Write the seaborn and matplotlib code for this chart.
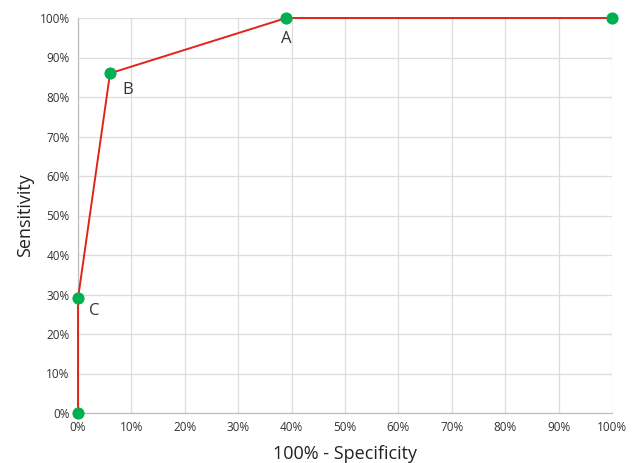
import matplotlib
matplotlib.use("Agg")
import matplotlib.pyplot as plt
import seaborn as sns
import pandas as pd

# ROC points (100% - specificity, sensitivity)
fpr = [0, 0, 6, 39, 100]
sens = [0, 29, 86, 100, 100]
point_names = ["", "C", "B", "A", ""]
ticks = [0, 10, 20, 30, 40, 50, 60, 70, 80, 90, 100]
tick_labels = [f"{t}%" for t in ticks]

sns.set_style("white")
plt.rcParams['font.family'] = ['Open Sans', 'DejaVu Sans']

df = pd.DataFrame({'fpr': fpr, 'sens': sens})

fig = plt.figure(figsize=(6.34, 4.63), dpi=100)
ax = fig.add_axes([78 / 634, 1 - 413 / 463, (612 - 78) / 634, (413 - 18) / 463])

sns.lineplot(data=df, x='fpr', y='sens', sort=False, estimator=None, ax=ax,
             color='#e2231a', linewidth=1.4, marker='o', markersize=8,
             markerfacecolor='#00b050', markeredgecolor='#00b050', clip_on=False, zorder=3)

offsets = {"A": (0, -15), "B": (13, -12), "C": (12, -9)}
for x, y, n in zip(fpr, sens, point_names):
    if n:
        ax.annotate(n, (x, y), xytext=offsets[n], textcoords='offset points',
                    ha='center', va='center', fontsize=12, color='#333333')

ax.set_xlim(0, 100)
ax.set_ylim(0, 100)
ax.set_xticks(ticks)
ax.set_xticklabels(tick_labels)
ax.set_yticks(ticks)
ax.set_yticklabels(tick_labels)
ax.tick_params(axis='both', labelsize=8.5, colors='#333333', length=0, pad=6)
ax.grid(True, color='#dddddd', linewidth=0.9)
ax.set_axisbelow(True)
for s in ['top', 'right']:
    ax.spines[s].set_visible(False)
for s in ['left', 'bottom']:
    ax.spines[s].set_color('#bfbfbf')
    ax.spines[s].set_linewidth(0.9)

ax.set_xlabel("100% - Specificity", fontsize=13, color='#222222', labelpad=8)
ax.set_ylabel("Sensitivity", fontsize=13, color='#222222', labelpad=4)

fig.savefig("out.png", dpi=100)
